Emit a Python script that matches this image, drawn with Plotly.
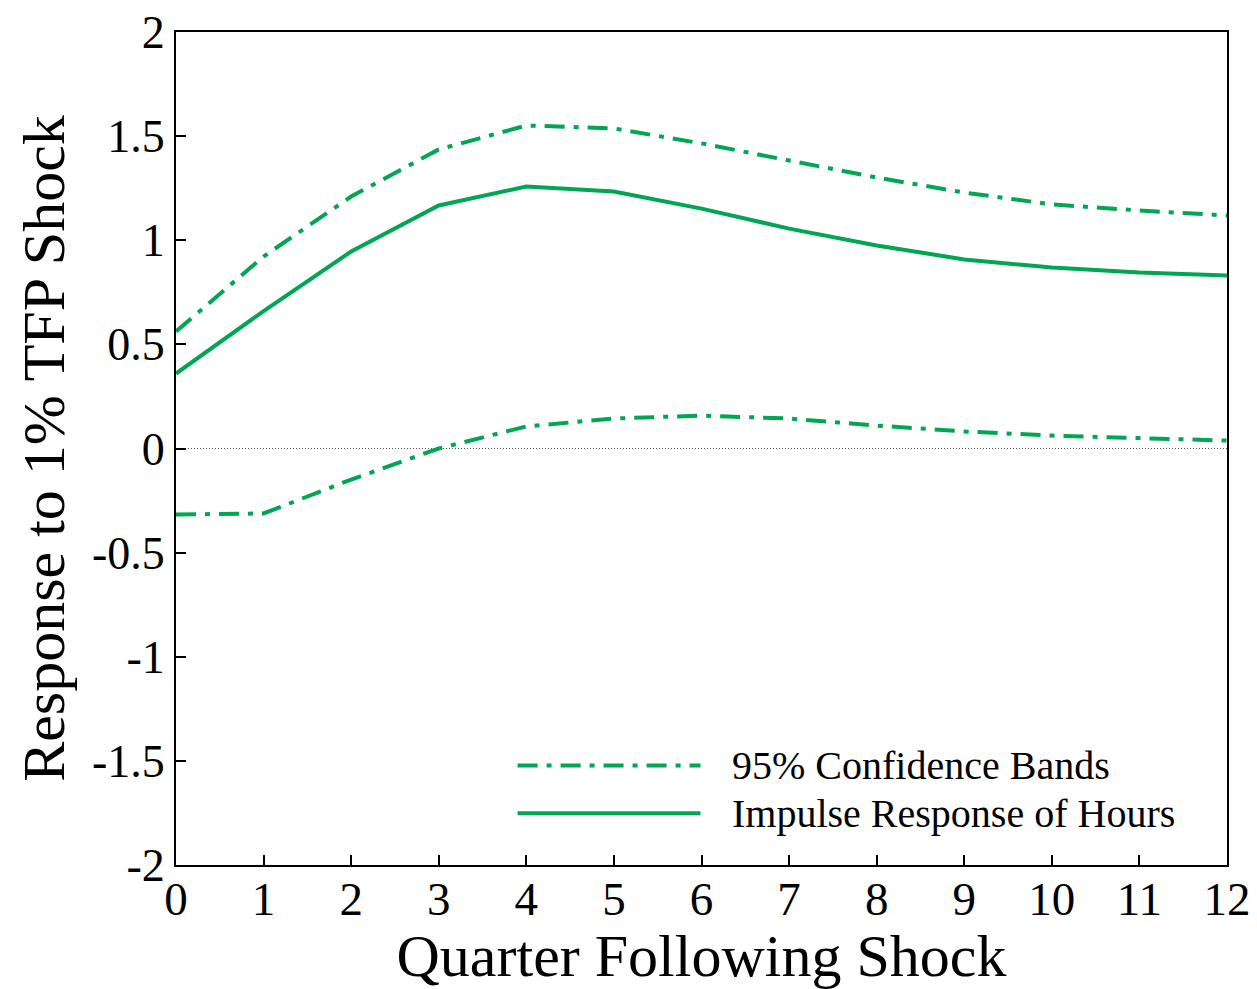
import plotly.graph_objects as go

# Quarters after the shock
quarters = [0, 1, 2, 3, 4, 5, 6, 7, 8, 9, 10, 11, 12]

# Impulse response of hours to a 1% TFP shock
hours_response = [0.36, 0.66, 0.946, 1.167, 1.258, 1.234, 1.152, 1.056, 0.975, 0.908, 0.869, 0.845, 0.831]

# 95% confidence bands
upper_band = [0.562, 0.922, 1.21, 1.436, 1.551, 1.537, 1.465, 1.383, 1.301, 1.229, 1.172, 1.143, 1.119]
lower_band = [-0.317, -0.312, -0.149, 0.0, 0.106, 0.144, 0.158, 0.144, 0.11, 0.082, 0.062, 0.048, 0.038]

y_tick_vals = [2, 1.5, 1, 0.5, 0, -0.5, -1, -1.5, -2]
y_tick_text = ["2", "1.5", "1", "0.5", "0", "-0.5", "-1", "-1.5", "-2"]

legend_labels = ["95% Confidence Bands", "Impulse Response of Hours"]

GREEN = "#00A651"
DASHDOT = "20px,9px,5px,9px"
FONT = "Liberation Serif"

fig = go.Figure()

for band in (upper_band, lower_band):
    fig.add_trace(go.Scatter(
        x=quarters, y=band, mode="lines",
        line=dict(color=GREEN, width=4, dash=DASHDOT),
        showlegend=False, hoverinfo="skip",
    ))

fig.add_trace(go.Scatter(
    x=quarters, y=hours_response, mode="lines",
    line=dict(color=GREEN, width=4),
    showlegend=False,
))

# dotted zero reference line
fig.add_shape(type="line", xref="x", yref="y", x0=0, x1=12, y0=0, y1=0,
              line=dict(color="#555555", width=1, dash="1px,2px"), layer="below")

# hand-drawn legend with long line samples
legend_y = [0.1195, 0.062]
legend_dash = [DASHDOT, "solid"]
for ly, dash, label in zip(legend_y, legend_dash, legend_labels):
    fig.add_shape(type="line", xref="paper", yref="paper",
                  x0=0.325, x1=0.499, y0=ly, y1=ly,
                  line=dict(color=GREEN, width=4, dash=dash))
    fig.add_annotation(xref="paper", yref="paper", x=0.527, y=ly,
                       text=label, showarrow=False, xanchor="left", yanchor="middle",
                       font=dict(family=FONT, size=40, color="black"))

fig.update_layout(
    width=1257, height=989,
    margin=dict(l=176, r=30, t=32, b=124, autoexpand=False),
    paper_bgcolor="white", plot_bgcolor="white",
    font=dict(family=FONT, color="black"),
    showlegend=False,
)

fig.update_xaxes(
    range=[0, 12], tickmode="array", tickvals=quarters,
    ticks="inside", ticklen=10, tickwidth=1.5, tickcolor="black",
    showline=True, linecolor="black", linewidth=2, mirror=True,
    showgrid=False, zeroline=False, automargin=False,
    tickfont=dict(family=FONT, size=47), ticklabelstandoff=-8,
    title=dict(text="Quarter Following Shock", font=dict(family=FONT, size=60), standoff=6),
)

fig.update_yaxes(
    range=[-2, 2], tickmode="array", tickvals=y_tick_vals, ticktext=y_tick_text,
    ticks="inside", ticklen=10, tickwidth=1.5, tickcolor="black",
    showline=True, linecolor="black", linewidth=2, mirror=True,
    showgrid=False, zeroline=False, automargin=False,
    tickfont=dict(family=FONT, size=46),
    title=dict(text="Response to 1% TFP Shock", font=dict(family=FONT, size=60), standoff=8),
)

fig.write_html("out.html")
